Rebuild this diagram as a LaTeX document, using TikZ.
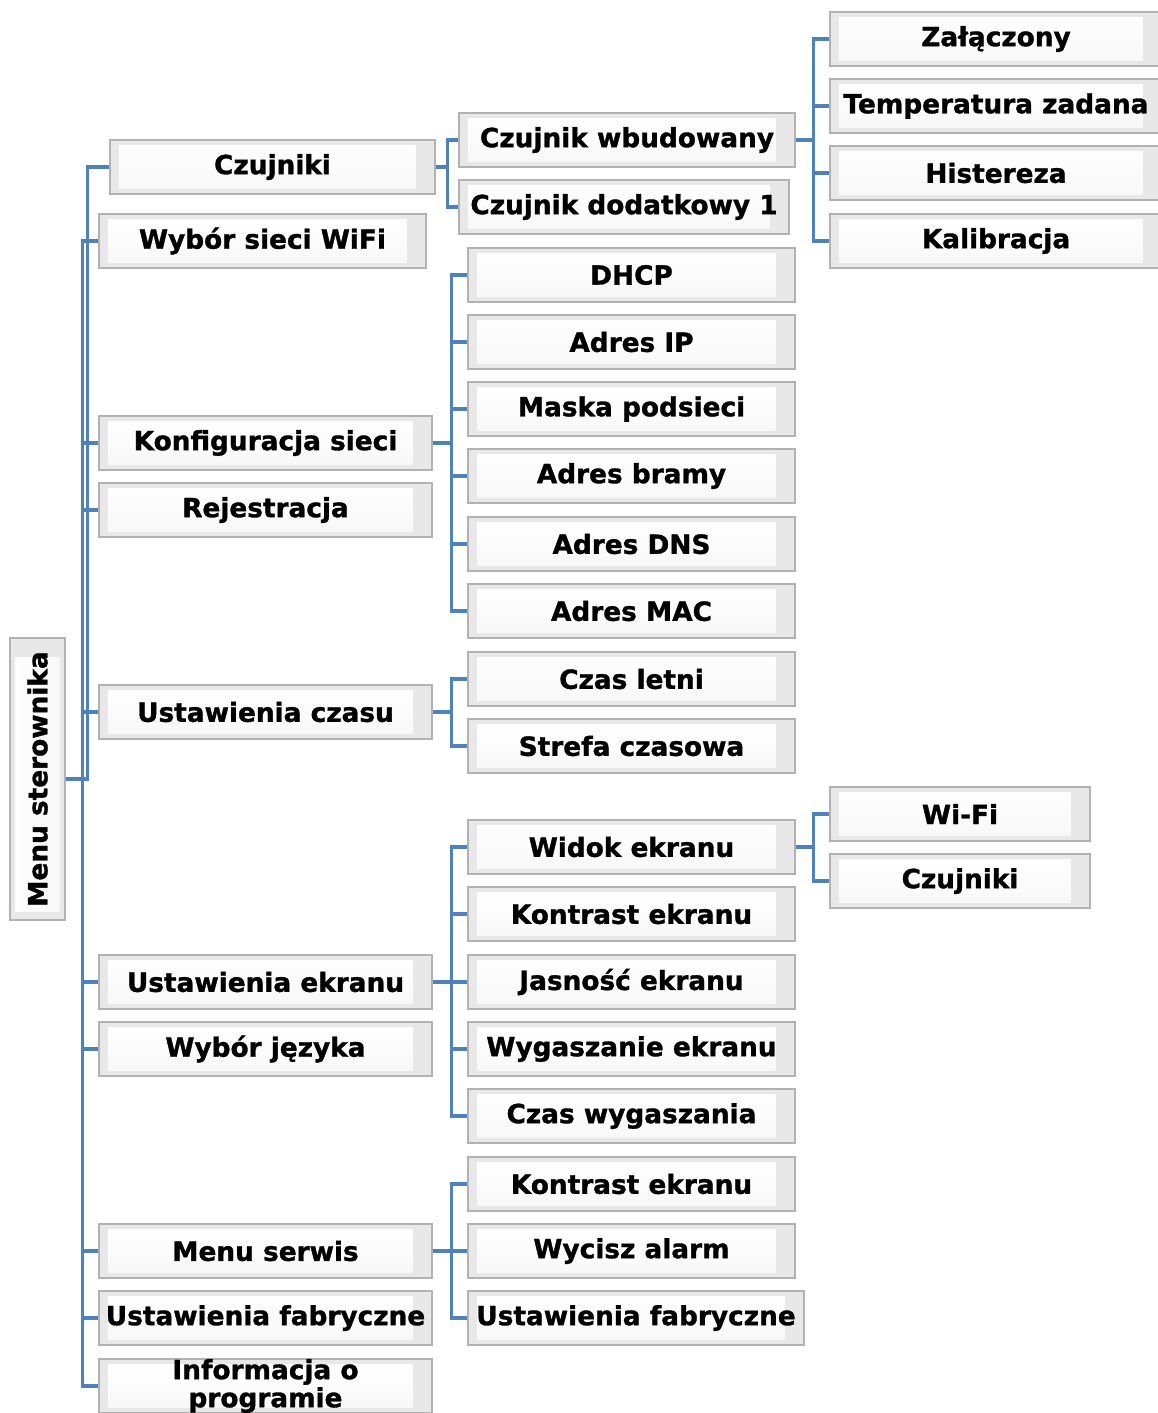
\documentclass[tikz,border=0pt]{standalone}
\usepackage{fontspec}
\setmainfont{DejaVu Sans}
\newfontfamily\menufont[FakeBold=1.2]{DejaVu Sans Bold}
\definecolor{linkblue}{HTML}{4F81BD}
\tikzset{
    menubox/.style={draw=gray!60, fill=gray!18, line width=0.8pt, inner sep=0pt,
        minimum height=1.08cm, align=center,
        font=\fontsize{15}{16}\selectfont\menufont,
        path picture={\shade[top color=white, bottom color=gray!6]
            ([xshift=5pt,yshift=3pt]path picture bounding box.south west) rectangle
            ([xshift=-11pt,yshift=-3pt]path picture bounding box.north east);
            \draw[gray!75, line width=1.2pt] (path picture bounding box.south west)
            -- (path picture bounding box.south east);}},
    rootbox/.style={menubox, minimum width=1.1cm, minimum height=5.64cm,
        path picture={\shade[left color=white, right color=gray!6]
            ([xshift=3pt,yshift=5pt]path picture bounding box.south west) rectangle
            ([xshift=-3pt,yshift=-11pt]path picture bounding box.north east);
            \draw[gray!75, line width=1.2pt] (path picture bounding box.south east)
            -- (path picture bounding box.north east);}},
    lvone/.style={menubox, minimum width=6.66cm},
    lvtwo/.style={menubox, minimum width=6.54cm},
    lvthree/.style={menubox, minimum width=6.64cm},
    link/.style={draw=linkblue, line width=1.9pt}
}
\begin{document}
\begin{tikzpicture}[x=0.02cm, y=-0.02cm]

    \useasboundingbox (0,0) rectangle (1158,1413);

    % Root of the menu
    \node[rootbox] (root) at (37.5,779) {\rotatebox{90}{Menu sterownika}};

    % First level
    \node[lvone, minimum width=6.5cm] (czu) at (272.5,167) {Czujniki};
    \node[lvone, minimum width=6.54cm] (wifi) at (262.5,241) {Wybór sieci WiFi};
    \node[lvone] (konf) at (265.5,443) {Konfiguracja sieci};
    \node[lvone] (rej) at (265.5,510) {Rejestracja};
    \node[lvone] (czas) at (265.5,712) {Ustawienia czasu};
    \node[lvone] (ekran) at (265.5,982) {Ustawienia ekranu};
    \node[lvone] (jezyk) at (265.5,1049) {Wybór języka};
    \node[lvone] (serwis) at (265.5,1251) {Menu serwis};
    \node[lvone] (fabr) at (265.5,1318) {Ustawienia fabryczne};
    \node[lvone] (info) at (265.5,1386) {Informacja o\\programie};

    % Second level
    \node[lvtwo, minimum width=6.72cm] (czwb) at (627,140) {Czujnik wbudowany};
    \node[lvtwo, minimum width=6.6cm] (czdod) at (624,207) {Czujnik dodatkowy 1};
    \node[lvtwo] (dhcp) at (631.5,275) {DHCP};
    \node[lvtwo] (ip) at (631.5,342) {Adres IP};
    \node[lvtwo] (maska) at (631.5,409) {Maska podsieci};
    \node[lvtwo] (brama) at (631.5,476) {Adres bramy};
    \node[lvtwo] (dns) at (631.5,544) {Adres DNS};
    \node[lvtwo] (mac) at (631.5,611) {Adres MAC};
    \node[lvtwo] (letni) at (631.5,679) {Czas letni};
    \node[lvtwo] (strefa) at (631.5,746) {Strefa czasowa};
    \node[lvtwo] (widok) at (631.5,847) {Widok ekranu};
    \node[lvtwo] (kontr) at (631.5,914) {Kontrast ekranu};
    \node[lvtwo] (jasn) at (631.5,982) {Jasność ekranu};
    \node[lvtwo] (wygasz) at (631.5,1049) {Wygaszanie ekranu};
    \node[lvtwo] (czaswyg) at (631.5,1116) {Czas wygaszania};
    \node[lvtwo] (kontrb) at (631.5,1184) {Kontrast ekranu};
    \node[lvtwo] (alarm) at (631.5,1251) {Wycisz alarm};
    \node[lvtwo, minimum width=6.72cm] (fabrb) at (636,1318) {Ustawienia fabryczne};

    % Third level
    \node[lvthree] (zal) at (996,39) {Załączony};
    \node[lvthree] (temp) at (996,106) {Temperatura zadana};
    \node[lvthree] (hist) at (996,173) {Histereza};
    \node[lvthree] (kal) at (996,241) {Kalibracja};
    \node[lvthree, minimum width=5.2cm] (wifib) at (960,814) {Wi-Fi};
    \node[lvthree, minimum width=5.2cm] (czub) at (960,881) {Czujniki};

    % Connectors
    \draw[link] (root.east) -- ++(22,0) |- (czu.west);
    \foreach \c in {wifi,konf,rej,czas,ekran,jezyk,serwis,fabr,info}
        \draw[link] (root.east) -- ++(17,0) |- (\c.west);
    \foreach \c in {czwb,czdod}
        \draw[link] (czu.east) -- ++(12,0) |- (\c.west);
    \foreach \c in {zal,temp,hist,kal}
        \draw[link] (czwb.east) -- ++(18,0) |- (\c.west);
    \foreach \c in {dhcp,ip,maska,brama,dns,mac}
        \draw[link] (konf.east) -- ++(19,0) |- (\c.west);
    \foreach \c in {letni,strefa}
        \draw[link] (czas.east) -- ++(19,0) |- (\c.west);
    \foreach \c in {widok,kontr,jasn,wygasz,czaswyg}
        \draw[link] (ekran.east) -- ++(19,0) |- (\c.west);
    \foreach \c in {wifib,czub}
        \draw[link] (widok.east) -- ++(18,0) |- (\c.west);
    \foreach \c in {kontrb,alarm,fabrb}
        \draw[link] (serwis.east) -- ++(19,0) |- (\c.west);

\end{tikzpicture}
\end{document}
